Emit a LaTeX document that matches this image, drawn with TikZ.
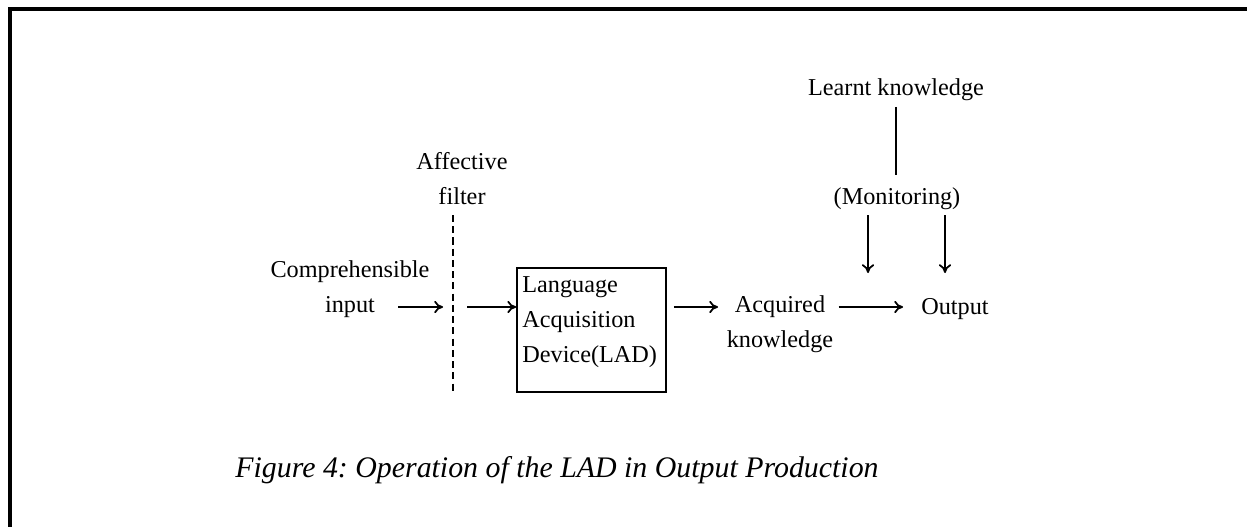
\documentclass[tikz,border=0pt]{standalone}
\usepackage{fontspec}
\setmainfont{Liberation Serif}
\usetikzlibrary{arrows.meta,positioning,calc}
\frenchspacing

\begin{document}
\begin{tikzpicture}[x=0.02cm,y=-0.02cm,
  lbl/.style={inner sep=0pt,align=center,font=\fontsize{13.8}{19.9}\selectfont},
  arr/.style={-{To[length=5pt,width=7pt]},line width=1pt},
  filterline/.style={line width=1pt,dash pattern=on 4pt off 2.4pt},
  frame/.style={line width=2.2pt}]
  \useasboundingbox (0,0) rectangle (1247,527);
  % outer frame (top and left only)
  \draw[frame] (1247,9) -- (10,9) -- (10,527);

  % nodes
  \node[lbl] (ci) at (350,289) {Comprehensible\\input};
  \node[lbl] (filt) at (462,179) {Affective\\filter};
  \node[draw,line width=1pt,minimum width=149*0.02cm,minimum height=124*0.02cm,
        inner sep=0pt] (lad) at (591.5,330) {};
  \node[lbl,align=left,anchor=west] (ladtxt) at (522,322)
        {Language\\Acquisition\\Device(LAD)};
  \node[lbl] (acq) at (780,324) {Acquired\\knowledge};
  \node[lbl] (out) at (955,309) {Output};
  \node[lbl] (learnt) at (896,90) {Learnt knowledge};
  \node[lbl] (monit) at (897,199) {(Monitoring)};
  \node[inner sep=0pt,font=\fontsize{17}{20}\selectfont\itshape] (cap) at (557,470)
        {Figure 4: Operation of the LAD in Output Production};

  % filter line and row of arrows
  \coordinate (ftop) at (453,215);
  \coordinate (fbot) at (453,392);
  \draw[filterline] (ftop) -- (fbot);
  \coordinate (row) at (0,307);
  \coordinate (tap) at (868,307);

  \draw[arr] (398,307) -- (443,307);
  \draw[arr] (467,307) -- (row -| lad.west);
  \draw[arr] ([xshift=7*0.02cm]lad.east |- row) -- (718,307);
  \draw[arr] ([xshift=5*0.02cm]acq.east |- row) -- (903,307);

  % monitoring
  \draw[line width=1pt] (learnt.south |- 0,107) -- (learnt.south |- 0,175);
  \draw[arr] (tap |- 0,215) -- ($(tap)+(0,-34)$);
  \draw[arr] (945,215) -- (945,273);
\end{tikzpicture}
\end{document}
